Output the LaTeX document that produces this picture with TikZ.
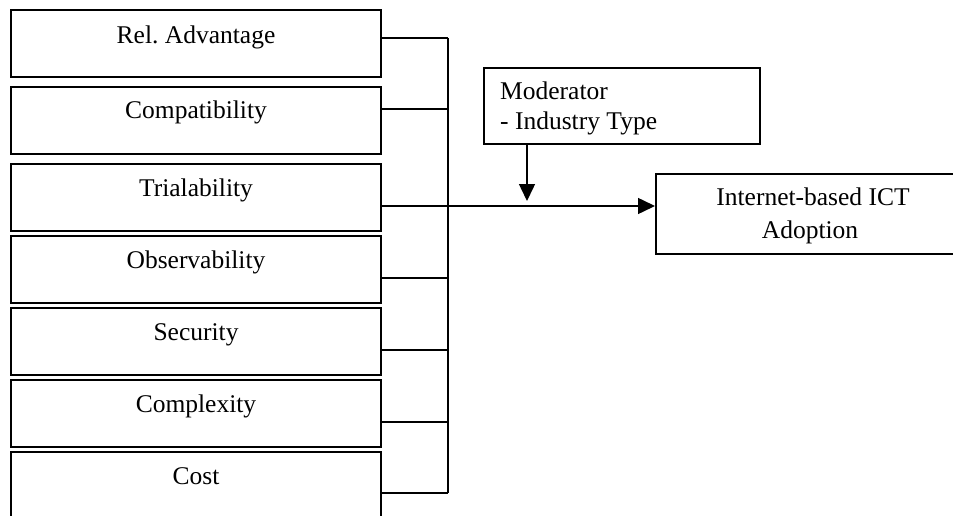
\documentclass[tikz,border=0pt]{standalone}
\usepackage{fontspec}
\setmainfont{Liberation Serif}
\usetikzlibrary{arrows.meta}
\begin{document}
\begin{tikzpicture}[x=1pt,y=-1pt,
  every node/.style={font=\fontsize{25.5}{30}\selectfont},
  factor/.style={draw, line width=2pt, rectangle, anchor=north west,
    minimum width=370pt, minimum height=67pt, inner sep=0pt,
    text height=20pt, text depth=23pt},
  plainbox/.style={draw, line width=2pt, rectangle, anchor=north west, inner sep=0pt},
  link/.style={line width=1.5pt},
  arr/.style={line width=1.5pt, -{Triangle[length=17pt,width=16pt]}}]
\clip (0,0) rectangle (953,516);
\fill[white] (0,0) rectangle (953,516);
% factor boxes
\node[factor, text depth=19pt] (b1) at (10,9) {Rel.\ Advantage};
\node[factor] (b2) at (10,86) {Compatibility};
\node[factor] (b3) at (10,163) {Trialability};
\node[factor] (b4) at (10,235) {Observability};
\node[factor] (b5) at (10,307) {Security};
\node[factor] (b6) at (10,379) {Complexity};
\node[factor] (b7) at (10,451) {Cost};
% moderator box
\node[plainbox, minimum width=276pt, minimum height=76pt] (mod) at (483,67) {};
\node[anchor=base west, inner sep=0pt] (modt1) at (500,100) {Moderator};
\node[anchor=base west, inner sep=0pt] (modt2) at (500,130) {- Industry Type};
% outcome box
\node[plainbox, minimum width=310pt, minimum height=80pt] (out) at (655,173) {};
\node[anchor=base, inner sep=0pt] (outt1) at (813,205) {Internet-based ICT};
\node[anchor=base, inner sep=0pt] (outt2) at (810,238) {Adoption};
% junction points on the bar
\coordinate (j1) at (448,38);
\coordinate (j2) at (448,109);
\coordinate (j3) at (448,206);
\coordinate (j4) at (448,278);
\coordinate (j5) at (448,350);
\coordinate (j6) at (448,422);
\coordinate (j7) at (448,493);
\coordinate (mtip) at (527,201);
% connectors
\draw[link] (b1.east |- j1) -- (j1);
\draw[link] (b2.east |- j2) -- (j2);
\draw[link] (b4.east |- j4) -- (j4);
\draw[link] (b5.east |- j5) -- (j5);
\draw[link] (b6.east |- j6) -- (j6);
\draw[link] (b7.east |- j7) -- (j7);
\draw[link] (j1) -- (j7);
\draw[arr] (b3.east |- j3) -- (j3 -| out.west);
\draw[arr] (mod.south -| mtip) -- (mtip);
\end{tikzpicture}
\end{document}
